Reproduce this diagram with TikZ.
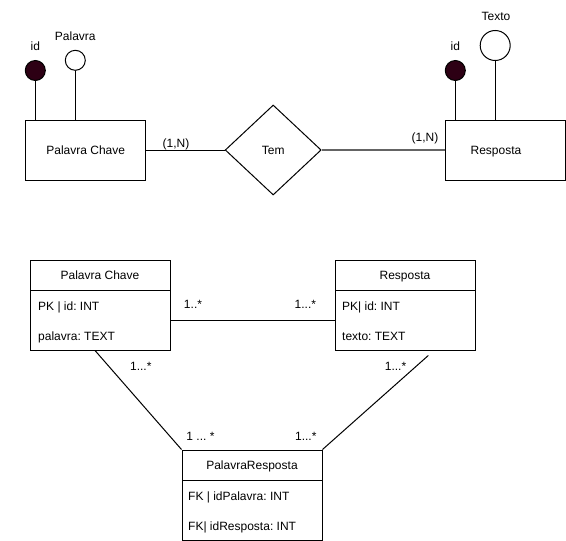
\documentclass[tikz,border=0pt]{standalone}
\usepackage{fontspec}
\setmainfont{Liberation Sans}
\usetikzlibrary{shapes.geometric}
\definecolor{keyfill}{RGB}{45,0,20}
\definecolor{relgray}{RGB}{100,100,100}
\frenchspacing
\begin{document}
\begin{tikzpicture}[x=1pt,y=-1pt, line width=1pt,
  every node/.style={font=\fontsize{12pt}{14pt}\selectfont, text height=8.6pt, text depth=0pt},
  ent/.style={draw, rectangle, minimum width=120pt, minimum height=60pt, inner sep=0pt},
  keyattr/.style={draw=black, circle, fill=keyfill, minimum size=20pt, inner sep=0pt},
  attr/.style={draw, circle, fill=white, minimum size=20pt, inner sep=0pt},
  rel/.style={draw, diamond, minimum width=96pt, minimum height=90pt, inner sep=0pt},
  lbl/.style={inner sep=0pt},
  head/.style={draw, rectangle, minimum width=140pt, minimum height=30pt, inner sep=0pt},
  body/.style={draw, rectangle, minimum width=140pt, minimum height=60pt, inner sep=0pt},
  row/.style={inner sep=0pt, anchor=west},
]
\useasboundingbox (0,0) rectangle (566,541);

% ---- Conceptual model ----
\node[ent] (pc) at (85.7,150) {Palavra Chave};
\node[keyattr] (pcid) at (35.3,70.5) {};
\node[attr] (pcpal) at (75.3,60.3) {};
\node[lbl] (pcidl) at (35.3,46) {id};
\node[lbl] (pcpall) at (75.3,36) {Palavra};
\draw (pcid) -- (pcid |- pc.north);
\draw (pcpal) -- (pcpal |- pc.north);

\node[rel] (tem) at (273.2,150) {Tem};

\node[ent] (resp) at (505.5,150) {};
\node[lbl] (respl) at (496,150.5) {Resposta};
\node[keyattr] (rid) at (455.3,70.5) {};
\node[attr, minimum size=30pt] (rtx) at (495.2,45.5) {};
\node[lbl] (ridl) at (455.3,46) {id};
\node[lbl] (rtxl) at (496,16) {Texto};
\draw (rid) -- (rid |- resp.north);
\draw (rtx) -- (rtx |- resp.north);

\draw (pc.east) -- (tem.west);
\draw[relgray, line width=1.3pt] (tem.east) -- (resp.west);
\node[lbl] (c1) at (176,143.5) {(1,N)};
\node[lbl] (c2) at (425,137.5) {(1,N)};

% ---- Logical model ----
\node[head] (pc2h) at (100,275) {Palavra Chave};
\node[body] (pc2b) at (100,320) {};
\node[row] (pc2r1) at (37.7,306.3) {PK | id: INT};
\node[row] (pc2r2) at (37.7,336.2) {palavra: TEXT};

\node[head] (r2h) at (405,275) {Resposta};
\node[body] (r2b) at (405,320) {};
\node[row] (r2r1) at (341.7,306.3) {PK| id: INT};
\node[row] (r2r2) at (341.7,336.2) {texto: TEXT};

\node[head] (prh) at (252,465) {PalavraResposta};
\node[body] (prb) at (252,510) {};
\node[row] (prr1) at (187.7,496.3) {FK | idPalavra: INT};
\node[row] (prr2) at (187.7,526.2) {FK| idResposta: INT};

\draw (pc2b.east) -- (r2b.west);
\node[lbl] (m1) at (193,304.5) {1..*};
\node[lbl] (m2) at (305.4,304.5) {1...*};

\coordinate (d1) at ([xshift=-5pt]pc2b.south);
\coordinate (d2) at ([xshift=23.3pt,yshift=-5pt]r2b.south);
\draw (d1) -- (prh.north west);
\draw (d2) -- (prh.north east);
\node[lbl] (m3) at (140.8,366) {1...*};
\node[lbl] (m4) at (200.5,436) {1 ... *};
\node[lbl] (m5) at (395.5,366) {1...*};
\node[lbl] (m6) at (305.8,436) {1...*};
\end{tikzpicture}
\end{document}
